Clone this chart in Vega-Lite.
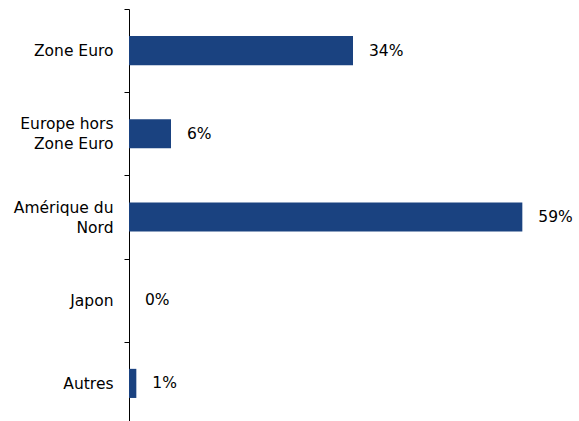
{
  "$schema": "https://vega.github.io/schema/vega-lite/v6.json",
  "autosize": "none",
  "padding": {"left": 129, "top": 9, "right": 50, "bottom": 0},
  "width": 400,
  "height": 416,
  "background": "white",
  "config": {"view": {"stroke": null}, "font": "DejaVu Sans"},
  "data": {
    "values": [
      {"region": "Zone Euro", "share": 0.336},
      {"region": "Europe hors Zone Euro", "share": 0.063},
      {"region": "Amérique du Nord", "share": 0.59},
      {"region": "Japon", "share": 0.0},
      {"region": "Autres", "share": 0.011}
    ]
  },
  "encoding": {
    "y": {
      "field": "region",
      "type": "nominal",
      "sort": null,
      "scale": {"paddingInner": 0, "paddingOuter": 0},
      "axis": {
        "title": null,
        "tickBand": "extent",
        "domainColor": "black",
        "domainWidth": 1,
        "tickColor": "black",
        "tickSize": 5,
        "labelPadding": 11,
        "labelFontSize": 15.5,
        "labelColor": "black",
        "labelFont": "DejaVu Sans",
        "labelLineHeight": 20,
        "labelOffset": {"condition": {"test": "datum.value == 'Europe hors Zone Euro' || datum.value == 'Amérique du Nord'", "value": -10}, "value": 0},
        "grid": false,
        "labelExpr": "datum.value == 'Europe hors Zone Euro' ? ['Europe hors', 'Zone Euro'] : datum.value == 'Amérique du Nord' ? ['Amérique du', 'Nord'] : datum.value"
      }
    },
    "x": {
      "field": "share",
      "type": "quantitative",
      "scale": {"domain": [0, 0.6], "nice": false},
      "axis": null
    }
  },
  "layer": [
    {
      "mark": {"type": "bar", "color": "#1a4280", "height": {"band": 0.35}}
    },
    {
      "mark": {"type": "text", "align": "left", "baseline": "middle", "dx": 16, "fontSize": 15.5, "color": "black", "clip": false},
      "encoding": {"text": {"field": "share", "type": "quantitative", "format": ".0%"}}
    }
  ]
}
